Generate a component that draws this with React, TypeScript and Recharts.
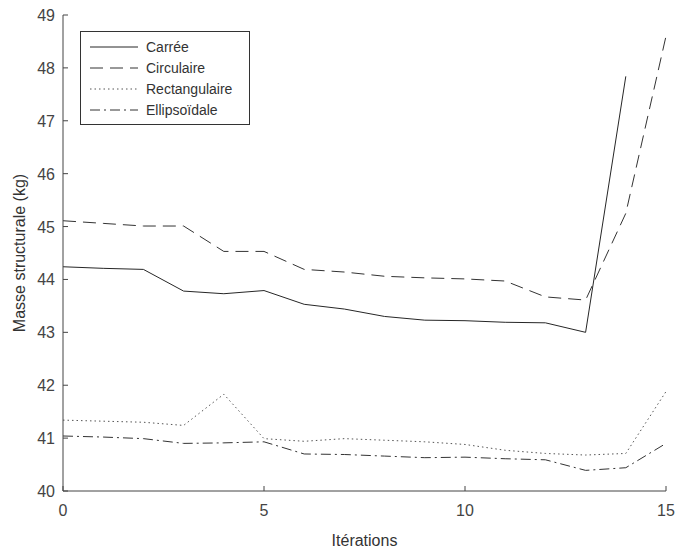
import { LineChart, Line, XAxis, YAxis } from "recharts";

// values, one per iteration (0..15)
const iterations = [0, 1, 2, 3, 4, 5, 6, 7, 8, 9, 10, 11, 12, 13, 14, 15];
const carree = [44.24, 44.21, 44.19, 43.78, 43.73, 43.79, 43.53, 43.44, 43.3, 43.23, 43.22, 43.19, 43.18, 43.0, 47.84, null];
const circulaire = [45.11, 45.06, 45.01, 45.01, 44.53, 44.53, 44.19, 44.14, 44.06, 44.03, 44.01, 43.97, 43.67, 43.61, 45.25, 48.6];
const rectangulaire = [41.34, 41.32, 41.3, 41.24, 41.83, 40.99, 40.94, 40.99, 40.96, 40.93, 40.88, 40.77, 40.71, 40.68, 40.71, 41.88];
const ellipsoidale = [41.04, 41.02, 40.99, 40.9, 40.91, 40.93, 40.7, 40.69, 40.66, 40.63, 40.64, 40.61, 40.59, 40.39, 40.44, 40.9];

const xTicks = [0, 5, 10, 15];
const yTicks = [40, 41, 42, 43, 44, 45, 46, 47, 48, 49];

const data = iterations.map((it, i) => ({
  it,
  carree: carree[i],
  circulaire: circulaire[i],
  rectangulaire: rectangulaire[i],
  ellipsoidale: ellipsoidale[i],
}));

const series = [
  { key: "carree", name: "Carrée", color: "#262626", dash: undefined as string | undefined },
  { key: "circulaire", name: "Circulaire", color: "#333333", dash: "13 7" },
  { key: "rectangulaire", name: "Rectangulaire", color: "#555555", dash: "1.5 3" },
  { key: "ellipsoidale", name: "Ellipsoïdale", color: "#333333", dash: "10 4 2 4" },
];

const FONT = "'Liberation Sans', Arial, sans-serif";
const AXIS = "#444444";

function XTick({ x, y, payload }: any) {
  return (
    <g>
      <line x1={x} x2={x} y1={y} y2={y - 5} stroke={AXIS} />
      <text x={x} y={y + 25} textAnchor="middle" fontSize={16} fill={AXIS} fontFamily={FONT}>
        {payload.value}
      </text>
    </g>
  );
}

function YTick({ x, y, payload }: any) {
  return (
    <g>
      <line x1={x} x2={x + 5} y1={y} y2={y} stroke={AXIS} />
      <text x={x - 8} y={y + 6} textAnchor="end" fontSize={16} fill={AXIS} fontFamily={FONT}>
        {payload.value}
      </text>
    </g>
  );
}

function LegendBox() {
  return (
    <svg width={170} height={94} style={{ display: "block" }}>
      <rect x={0.5} y={0.5} width={169} height={93} fill="#fff" stroke="#333" />
      {series.map((s, i) => {
        const cy = 16 + i * 21;
        return (
          <g key={s.key}>
            <line x1={10} x2={58} y1={cy} y2={cy} stroke={s.color} strokeDasharray={s.dash} />
            <text x={66} y={cy + 5} fontSize={14} fill="#333" fontFamily={FONT}>
              {s.name}
            </text>
          </g>
        );
      })}
    </svg>
  );
}

export default function App() {
  return (
    <div style={{ position: "absolute", left: 0, top: 0, width: 678, height: 552, background: "#fff" }}>
      <LineChart width={678} height={552} data={data} margin={{ top: 15, right: 12, bottom: 0, left: 0 }}>
        <XAxis
          dataKey="it"
          type="number"
          domain={[0, 15]}
          ticks={xTicks}
          height={61}
          tickSize={0}
          tickMargin={0}
          tickLine={false}
          tick={<XTick />}
          stroke={AXIS}
          label={{ value: "Itérations", position: "insideBottom", offset: 6, fontSize: 16, fill: "#333", fontFamily: FONT }}
        />
        <YAxis
          type="number"
          domain={[40, 49]}
          ticks={yTicks}
          width={63}
          tickSize={0}
          tickMargin={0}
          tickLine={false}
          tick={<YTick />}
          stroke={AXIS}
          label={{ value: "Masse structurale (kg)", angle: -90, position: "insideLeft", offset: 19, fontSize: 16, fill: "#333", fontFamily: FONT, style: { textAnchor: "middle" } }}
        />
        {series.map((s) => (
          <Line
            key={s.key}
            dataKey={s.key}
            name={s.name}
            stroke={s.color}
            strokeWidth={1}
            strokeDasharray={s.dash}
            dot={false}
            activeDot={false}
            isAnimationActive={false}
          />
        ))}
      </LineChart>
      <div style={{ position: "absolute", left: 80, top: 31 }}>
        <LegendBox />
      </div>
    </div>
  );
}
